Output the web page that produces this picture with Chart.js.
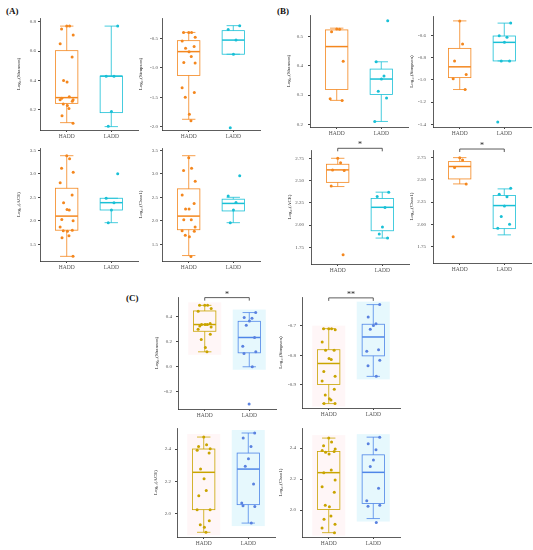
<!DOCTYPE html>
<html>
<head>
<meta charset="utf-8">
<script src="https://cdn.jsdelivr.net/npm/chart.js@4.4.0/dist/chart.umd.min.js"></script>
<style>
  body { margin: 0; background: #fff; }
  #fig { position: relative; width: 533px; height: 550px; overflow: hidden; background: #fff; }
  .cell { position: absolute; }
  .tag { position: absolute; font: bold 9px "Liberation Serif", serif; line-height: 1; color: #111; }
</style>
</head>
<body>
<div id="fig">
  <div class="tag" style="left:6px;top:7px">(A)</div>
  <div class="tag" style="left:277px;top:7px">(B)</div>
  <div class="tag" style="left:126px;top:294px">(C)</div>
</div>
<script>
// ── DATA ─────────────────────────────────────────
const groups = ['HADD', 'LADD'];

// box stats per group: [lower whisker, Q1, median, Q3, upper whisker]
const aShannonBox  = [[0.114, 0.245, 0.284, 0.603, 0.77], [0.087, 0.182, 0.43, 0.43, 0.77]];
const aShannonHADD = [0.77, 0.77, 0.75, 0.71, 0.65, 0.56, 0.40, 0.39, 0.29, 0.28, 0.27, 0.27, 0.26, 0.24, 0.23, 0.21, 0.16, 0.11];
const aShannonLADD = [0.77, 0.43, 0.43, 0.19, 0.09];

const aSimpsonBox  = [[-1.875, -1.13, -0.726, -0.54, -0.40], [-0.77, -0.77, -0.53, -0.37, -0.285]];
const aSimpsonHADD = [-0.40, -0.40, -0.40, -0.48, -0.545, -0.64, -0.67, -0.73, -0.81, -0.91, -0.92, -1.34, -1.42, -1.50, -1.79, -1.90];
const aSimpsonLADD = [-0.285, -0.35, -0.53, -0.77, -2.02];

const aAceBox  = [[1.243, 1.80, 2.10, 2.693, 3.386], [1.96, 2.23, 2.386, 2.48, 2.48]];
const aAceHADD = [3.386, 3.32, 3.12, 3.036, 2.81, 2.55, 2.386, 2.243, 2.23, 2.03, 2.0, 1.87, 1.80, 1.79, 1.78, 1.68, 1.64, 1.243];
const aAceLADD = [3.0, 2.48, 2.386, 2.23, 1.96];

const aChaoBox  = [[1.26, 1.81, 2.10, 2.68, 3.386], [1.96, 2.21, 2.37, 2.46, 2.50]];
const aChaoHADD = [3.34, 3.12, 3.07, 2.84, 2.55, 2.37, 2.25, 2.25, 2.02, 2.02, 1.87, 1.79, 1.78, 1.69, 1.66, 1.24];
const aChaoLADD = [2.96, 2.53, 2.39, 2.23, 1.96];

const bShannonBox  = [[0.282, 0.319, 0.466, 0.523, 0.529], [0.21, 0.302, 0.355, 0.389, 0.414]];
const bShannonHADD = [0.526, 0.525, 0.517, 0.416, 0.288, 0.282];
const bShannonLADD = [0.554, 0.414, 0.365, 0.355, 0.313, 0.29, 0.21];

const bSimpsonBox  = [[-1.087, -0.98, -0.883, -0.717, -0.47], [-0.83, -0.83, -0.663, -0.606, -0.49]];
const bSimpsonHADD = [-0.47, -0.678, -0.83, -0.952, -0.99, -1.087];
const bSimpsonLADD = [-0.49, -0.603, -0.618, -0.663, -0.83, -0.83, -1.38];

const bAceBox  = [[2.433, 2.48, 2.62, 2.683, 2.75], [1.855, 1.937, 2.20, 2.30, 2.37]];
const bAceHADD = [2.75, 2.70, 2.62, 2.612, 2.44, 1.668];
const bAceLADD = [2.37, 2.32, 2.198, 1.978, 1.90, 1.855];

const bChaoBox  = [[2.454, 2.51, 2.65, 2.705, 2.75], [1.88, 1.95, 2.21, 2.323, 2.398]];
const bChaoHADD = [2.75, 2.724, 2.64, 2.454, 1.86];
const bChaoLADD = [2.405, 2.338, 2.31, 2.206, 2.087, 2.0, 1.955];

const cShannonBox  = [[0.12, 0.285, 0.339, 0.448, 0.493], [0.0, 0.112, 0.235, 0.365, 0.435]];
const cShannonHADD = [0.493, 0.493, 0.493, 0.467, 0.445, 0.347, 0.339, 0.339, 0.339, 0.328, 0.32, 0.301, 0.261, 0.219, 0.155, 0.12];
const cShannonLADD = [0.435, 0.395, 0.39, 0.368, 0.333, 0.235, 0.165, 0.12, 0.107, 0.0, -0.299];

const cSimpsonBox  = [[-0.965, -0.90, -0.828, -0.781, -0.709], [-0.872, -0.802, -0.7375, -0.694, -0.627]];
const cSimpsonHADD = [-0.709, -0.709, -0.709, -0.7125, -0.755, -0.783, -0.783, -0.811, -0.814, -0.855, -0.872, -0.888, -0.916, -0.936, -0.948, -0.953, -0.965, -0.965];
const cSimpsonLADD = [-0.627, -0.669, -0.692, -0.698, -0.711, -0.781, -0.786, -0.817, -0.836, -0.872];

const cAceBox  = [[1.885, 2.025, 2.256, 2.40, 2.474], [1.942, 2.056, 2.276, 2.375, 2.499]];
const cAceHADD = [2.474, 2.427, 2.416, 2.402, 2.392, 2.375, 2.276, 2.216, 2.144, 2.111, 2.025, 2.025, 1.957, 1.932, 1.917, 1.885];
const cAceLADD = [2.499, 2.468, 2.416, 2.34, 2.293, 2.184, 2.066, 2.045, 2.05, 1.942];

const cChaoBox  = [[1.855, 2.004, 2.242, 2.378, 2.465], [1.946, 2.043, 2.244, 2.357, 2.471]];
const cChaoHADD = [2.465, 2.439, 2.415, 2.394, 2.385, 2.378, 2.374, 2.363, 2.259, 2.242, 2.195, 2.151, 2.115, 2.032, 2.022, 1.963, 1.942, 1.909, 1.885, 1.855];
const cChaoLADD = [2.471, 2.428, 2.389, 2.324, 2.281, 2.141, 2.061, 2.032, 2.026, 1.92];

// tick labels
const ticksAShannon = [0.2, 0.4, 0.6, 0.8];
const ticksASimpson = [-2.0, -1.5, -1.0, -0.5];
const ticksARich    = [1.5, 2.0, 2.5, 3.0, 3.5];
const ticksBShannon = [0.2, 0.3, 0.4, 0.5];
const ticksBSimpson = [-1.4, -1.2, -1.0, -0.8, -0.6];
const ticksBRich    = [1.75, 2.00, 2.25, 2.50, 2.75];
const ticksCShannon = [-0.2, 0.0, 0.2, 0.4];
const ticksCSimpson = [-0.9, -0.8, -0.7];
const ticksCRich    = [2.0, 2.2, 2.4];

// ── STYLE / LAYOUT ───────────────────────────────
const SERIF = '"Liberation Serif", "DejaVu Serif", serif';
const PAD_L = 26, PAD_T = 14, PAD_B = 14, PAD_R = 2, PLOT_W = 98;

const palettes = {
  A: { line: ['#F4871E', '#19C0D6'], dot: ['#F4871E', '#19C0D6'], bg: null, tickPad: 2 },
  B: { line: ['#F4871E', '#19C0D6'], dot: ['#F4871E', '#19C0D6'], bg: null, tickPad: 5 },
  C: { line: ['#C9A400', '#4F86E8'], dot: ['#C9A400', '#5A82E0'],
       bg: ['rgba(255,182,193,0.12)', 'rgba(150,225,245,0.24)'], tickPad: 4 },
};

// at: [plot left, plot top, plot bottom]
const panels = [
  { title: 'Log₁₀(Shannon)', box: aShannonBox, pts: [aShannonHADD, aShannonLADD], ticks: ticksAShannon, dec: 1, range: [0.064, 0.825], pal: 'A', at: [40, 18, 130] },
  { title: 'Log₁₀(Simpson)', box: aSimpsonBox, pts: [aSimpsonHADD, aSimpsonLADD], ticks: ticksASimpson, dec: 1, range: [-2.057, -0.155], pal: 'A', at: [162, 18, 130] },
  { title: 'Log₁₀(ACE)',     box: aAceBox,     pts: [aAceHADD, aAceLADD],         ticks: ticksARich,    dec: 1, range: [1.144, 3.55],   pal: 'A', at: [40, 148, 261] },
  { title: 'Log₁₀(Chao1)',   box: aChaoBox,    pts: [aChaoHADD, aChaoLADD],       ticks: ticksARich,    dec: 1, range: [1.144, 3.55],   pal: 'A', at: [162, 148, 261] },
  { title: 'Log₁₀(Shannon)', box: bShannonBox, pts: [bShannonHADD, bShannonLADD], ticks: ticksBShannon, dec: 1, range: [0.191, 0.574],  pal: 'B', at: [310, 15, 127] },
  { title: 'Log₁₀(Simpson)', box: bSimpsonBox, pts: [bSimpsonHADD, bSimpsonLADD], ticks: ticksBSimpson, dec: 1, range: [-1.424, -0.426], pal: 'B', at: [433, 16, 127] },
  { title: 'Log₁₀(ACE)',     box: bAceBox,     pts: [bAceHADD, bAceLADD],         ticks: ticksBRich,    dec: 2, range: [1.564, 2.843],  pal: 'B', at: [311, 150, 264], sig: ['*', 2.862] },
  { title: 'Log₁₀(Chao1)',   box: bChaoBox,    pts: [bChaoHADD, bChaoLADD],       ticks: ticksBRich,    dec: 2, range: [1.563, 2.836],  pal: 'B', at: [433, 150, 263], sig: ['*', 2.847] },
  { title: 'Log₁₀(Shannon)', box: cShannonBox, pts: [cShannonHADD, cShannonLADD], ticks: ticksCShannon, dec: 1, range: [-0.339, 0.56],  pal: 'C', at: [178, 297, 409], sig: ['*', 0.555] },
  { title: 'Log₁₀(Simpson)', box: cSimpsonBox, pts: [cSimpsonHADD, cSimpsonLADD], ticks: ticksCSimpson, dec: 1, range: [-0.98, -0.601], pal: 'C', at: [302, 297, 408], sig: ['**', -0.604] },
  { title: 'Log₁₀(ACE)',     box: cAceBox,     pts: [cAceHADD, cAceLADD],         ticks: ticksCRich,    dec: 1, range: [1.856, 2.53],   pal: 'C', at: [177, 428, 537] },
  { title: 'Log₁₀(Chao1)',   box: cChaoBox,    pts: [cChaoHADD, cChaoLADD],       ticks: ticksCRich,    dec: 1, range: [1.827, 2.53],   pal: 'C', at: [302, 428, 537] },
];

// deterministic horizontal spread for the jittered points
const jitter = (k, g) => 0.15 * Math.sin(k * 2.7 + g * 1.3);

// ── BOXPLOT PLUGIN ───────────────────────────────
function boxPlugin(p, pal) {
  const seg = (ctx, x1, y1, x2, y2) => {
    ctx.beginPath(); ctx.moveTo(x1, y1); ctx.lineTo(x2, y2); ctx.stroke();
  };
  return {
    id: 'boxplot',
    beforeDatasetsDraw(chart) {
      const { ctx, scales: { x, y } } = chart;
      const half = x.getPixelForValue(1.25) - x.getPixelForValue(1);
      const cap  = x.getPixelForValue(1.15) - x.getPixelForValue(1);
      const bgW  = x.getPixelForValue(1.37) - x.getPixelForValue(1);
      ctx.save();
      p.box.forEach((s, g) => {
        const cx = x.getPixelForValue(g + 1);
        const [lw, q1, md, q3, uw] = s.map(v => y.getPixelForValue(v));
        if (pal.bg) {
          ctx.fillStyle = pal.bg[g];
          ctx.fillRect(cx - bgW, uw - 3, bgW * 2, lw - uw + 6);
        }
        ctx.strokeStyle = pal.line[g];
        ctx.lineWidth = 0.8;
        seg(ctx, cx, q3, cx, uw);
        seg(ctx, cx, q1, cx, lw);
        seg(ctx, cx - cap, uw, cx + cap, uw);
        seg(ctx, cx - cap, lw, cx + cap, lw);
        ctx.strokeRect(cx - half, q3, half * 2, q1 - q3);
        ctx.lineWidth = 1.5;
        seg(ctx, cx - half, md, cx + half, md);
      });
      ctx.restore();
    },
    afterDatasetsDraw(chart) {
      if (!p.sig) return;
      const { ctx, scales: { x, y } } = chart;
      const x1 = x.getPixelForValue(1), x2 = x.getPixelForValue(2);
      const yp = y.getPixelForValue(p.sig[1]);
      ctx.save();
      ctx.strokeStyle = '#333';
      ctx.lineWidth = 0.8;
      ctx.beginPath();
      ctx.moveTo(x1, yp + 3); ctx.lineTo(x1, yp); ctx.lineTo(x2, yp); ctx.lineTo(x2, yp + 3);
      ctx.stroke();
      ctx.fillStyle = '#222';
      ctx.font = '8px ' + SERIF;
      ctx.textAlign = 'center';
      ctx.textBaseline = 'bottom';
      ctx.fillText(p.sig[0], (x1 + x2) / 2, yp + 1);
      ctx.restore();
    },
  };
}

// ── BUILD CHARTS ─────────────────────────────────
const fig = document.getElementById('fig');

panels.forEach(p => {
  const pal = palettes[p.pal];
  const [left, top, bottom] = p.at;
  const w = PAD_L + PLOT_W + PAD_R;
  const h = PAD_T + (bottom - top) + PAD_B;

  const cell = document.createElement('div');
  cell.className = 'cell';
  cell.style.left = (left - PAD_L) + 'px';
  cell.style.top = (top - PAD_T) + 'px';
  const cv = document.createElement('canvas');
  cv.width = w; cv.height = h;
  cv.style.width = w + 'px'; cv.style.height = h + 'px';
  cell.appendChild(cv);
  fig.appendChild(cell);

  new Chart(cv.getContext('2d'), {
    type: 'scatter',
    data: {
      datasets: p.pts.map((vals, g) => ({
        data: vals.map((v, k) => ({ x: g + 1 + jitter(k, g), y: v })),
        pointRadius: 1.5,
        pointHoverRadius: 1.5,
        pointBackgroundColor: pal.dot[g],
        pointBorderWidth: 0,
      })),
    },
    options: {
      responsive: false,
      animation: false,
      events: [],
      layout: { padding: { top: PAD_T, right: PAD_R, left: 0, bottom: 0 } },
      plugins: { legend: { display: false }, tooltip: { enabled: false } },
      scales: {
        x: {
          type: 'linear',
          min: 0.4,
          max: 2.6,
          afterBuildTicks: s => { s.ticks = groups.map((_, i) => ({ value: i + 1 })); },
          afterFit: s => { s.height = PAD_B; },
          ticks: {
            callback: v => groups[Math.round(v) - 1],
            font: { family: SERIF, size: 5.5 },
            color: '#555',
            padding: 1,
            maxRotation: 0,
            autoSkip: false,
          },
          grid: { drawOnChartArea: false, tickLength: 2, tickColor: '#444' },
          border: { color: '#333', width: 0.8 },
        },
        y: {
          min: p.range[0],
          max: p.range[1],
          afterBuildTicks: s => { s.ticks = p.ticks.map(v => ({ value: v })); },
          afterFit: s => { s.width = PAD_L; },
          ticks: {
            callback: v => v.toFixed(p.dec),
            font: { family: SERIF, size: 5 },
            color: '#555',
            padding: pal.tickPad,
            autoSkip: false,
          },
          grid: { drawOnChartArea: false, tickLength: 2, tickColor: '#444' },
          border: { color: '#333', width: 0.8 },
          title: {
            display: true,
            text: p.title,
            font: { family: SERIF, size: 5 },
            color: '#222',
            padding: { top: 2, bottom: 0 },
          },
        },
      },
    },
    plugins: [boxPlugin(p, pal)],
  });
});
</script>
</body>
</html>
